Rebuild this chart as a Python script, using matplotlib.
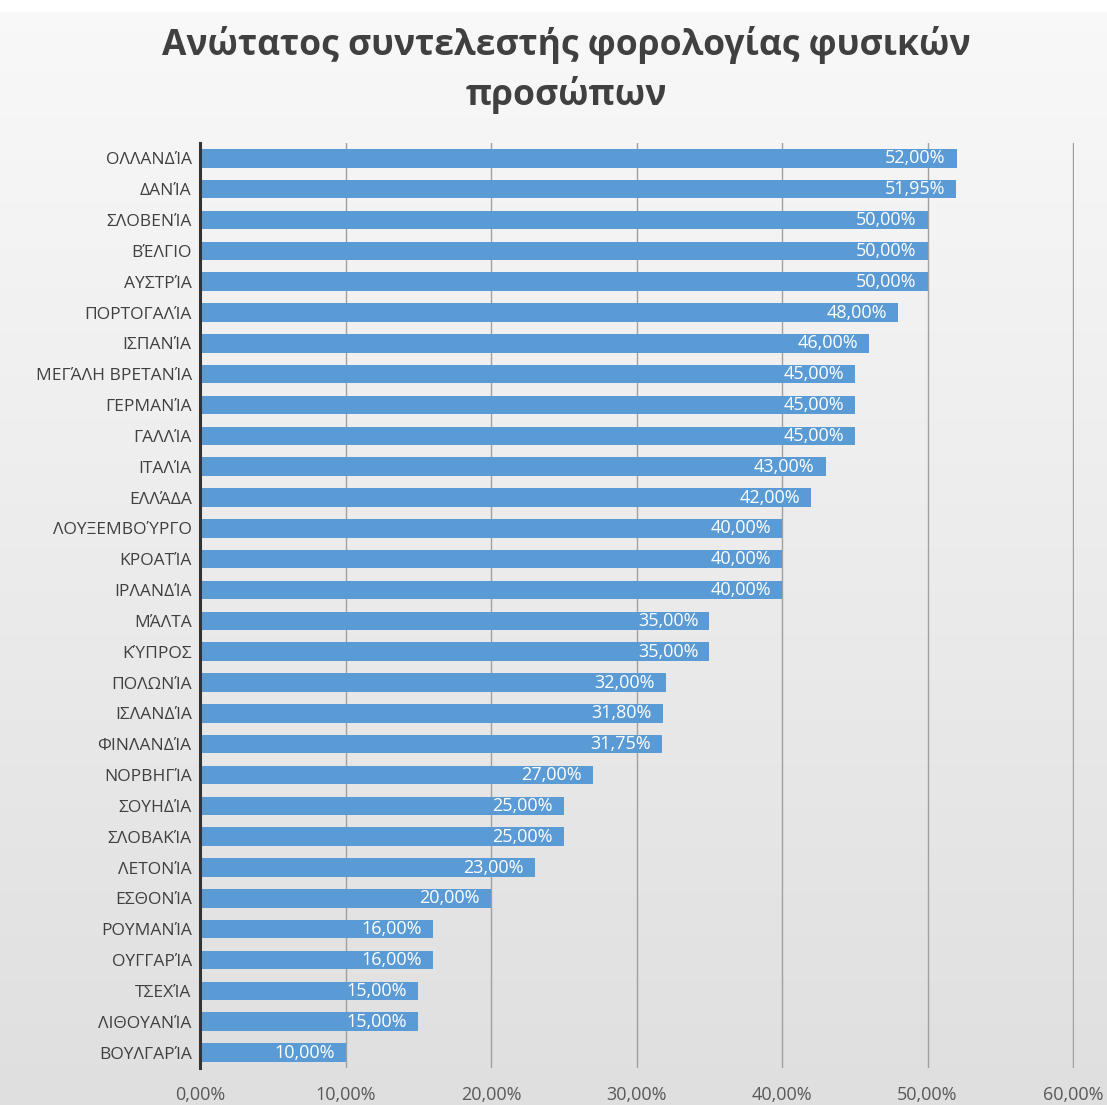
import matplotlib
matplotlib.use("Agg")
import matplotlib.pyplot as plt
import numpy as np

countries = ["ΟΛΛΑΝΔΊΑ", "ΔΑΝΊΑ", "ΣΛΟΒΕΝΊΑ", "ΒΈΛΓΙΟ", "ΑΥΣΤΡΊΑ", "ΠΟΡΤΟΓΑΛΊΑ",
             "ΙΣΠΑΝΊΑ", "ΜΕΓΆΛΗ ΒΡΕΤΑΝΊΑ", "ΓΕΡΜΑΝΊΑ", "ΓΑΛΛΊΑ", "ΙΤΑΛΊΑ", "ΕΛΛΆΔΑ",
             "ΛΟΥΞΕΜΒΟΎΡΓΟ", "ΚΡΟΑΤΊΑ", "ΙΡΛΑΝΔΊΑ", "ΜΆΛΤΑ", "ΚΎΠΡΟΣ", "ΠΟΛΩΝΊΑ",
             "ΙΣΛΑΝΔΊΑ", "ΦΙΝΛΑΝΔΊΑ", "ΝΟΡΒΗΓΊΑ", "ΣΟΥΗΔΊΑ", "ΣΛΟΒΑΚΊΑ", "ΛΕΤΟΝΊΑ",
             "ΕΣΘΟΝΊΑ", "ΡΟΥΜΑΝΊΑ", "ΟΥΓΓΑΡΊΑ", "ΤΣΕΧΊΑ", "ΛΙΘΟΥΑΝΊΑ", "ΒΟΥΛΓΑΡΊΑ"]
rates = [52.00, 51.95, 50.00, 50.00, 50.00, 48.00, 46.00, 45.00, 45.00, 45.00,
         43.00, 42.00, 40.00, 40.00, 40.00, 35.00, 35.00, 32.00, 31.80, 31.75,
         27.00, 25.00, 25.00, 23.00, 20.00, 16.00, 16.00, 15.00, 15.00, 10.00]
xticks = [0, 10, 20, 30, 40, 50, 60]
title = "Ανώτατος συντελεστής φορολογίας φυσικών\nπροσώπων"

def fmt(v):
    return f"{v:.2f}".replace(".", ",") + "%"

plt.rcParams['font.family'] = ['Open Sans', 'Noto Sans', 'DejaVu Sans']

fig = plt.figure(figsize=(11.07, 11.05), dpi=100)

# background gradient
bg = fig.add_axes([0, 0, 1, 1], zorder=-10)
grad = np.linspace(0, 1, 256).reshape(-1, 1)
top = np.array([0.975, 0.975, 0.975])
bot = np.array([0.875, 0.875, 0.875])
img = top[None, None, :] * (1 - grad[..., None]) + bot[None, None, :] * grad[..., None]
img = np.repeat(img, 2, axis=1)
bg.imshow(img, aspect='auto', extent=[0, 1, 0, 1])
bg.axhspan(0.99, 1.0, color='white')
bg.set_xlim(0, 1); bg.set_ylim(0, 1)
bg.axis('off')

ax = fig.add_axes([0.1807, 0.0335, 0.7899, 0.8371])
ax.patch.set_alpha(0)
y = np.arange(len(countries))
ax.barh(y, rates, height=0.6, color='#5b9bd5', zorder=3)
ax.set_ylim(len(countries) - 0.5, -0.5)
ax.set_xlim(0, 60.1)
ax.set_yticks(y)
ax.set_yticklabels(countries, fontsize=12.5, color='#404040')
ax.set_xticks(xticks)
ax.set_xticklabels([fmt(v) for v in xticks], fontsize=13, color='#595959')
ax.tick_params(axis='both', length=0)
ax.tick_params(axis='x', pad=13)
ax.tick_params(axis='y', pad=6)
for s in ['top', 'right', 'bottom']:
    ax.spines[s].set_visible(False)
ax.spines['left'].set_color('#333333')
ax.spines['left'].set_linewidth(2.2)
ax.spines['left'].set_zorder(5)
ax.grid(axis='x', color='#a0a0a0', linewidth=1.0, zorder=1)
ax.set_axisbelow(True)

for yi, v in zip(y, rates):
    ax.text(v - 0.75, yi, fmt(v), ha='right', va='center', color='white',
            fontsize=13, zorder=4)

fig.text(0.512, 0.937, title, ha='center', va='center', fontsize=25.5,
         fontweight='bold', color='#404040', linespacing=1.42)

fig.savefig("out.png", dpi=100)
